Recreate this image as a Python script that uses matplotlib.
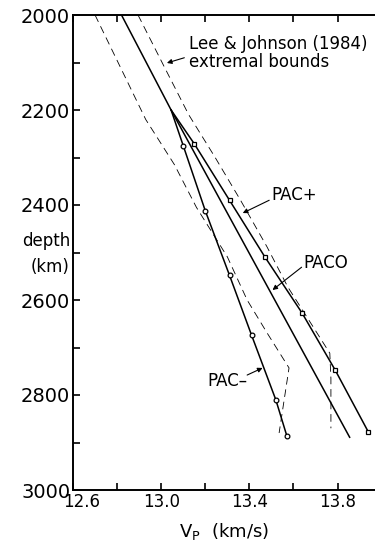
import matplotlib
matplotlib.use("Agg")
import matplotlib.pyplot as plt
import matplotlib.transforms as mtransforms
from matplotlib.ticker import MultipleLocator

# P velocity (km/s) vs depth (km)
pac0_v = [12.82, 13.045, 13.855]
pac0_d = [2000, 2200, 2889]

# PAC+ (squares); first point is where it leaves PAC0
pacp_v = [13.045, 13.15, 13.31, 13.47, 13.64, 13.79, 13.94]
pacp_d = [2200, 2271, 2390, 2509, 2628, 2748, 2878]

# PAC- (circles)
pacm_v = [13.045, 13.10, 13.20, 13.31, 13.41, 13.52, 13.57]
pacm_d = [2200, 2275, 2412, 2548, 2674, 2810, 2886]

# Lee & Johnson (1984) extremal bounds
lj_low_v = [12.70, 12.93, 13.06, 13.16, 13.30, 13.39, 13.48, 13.58, 13.535]
lj_low_d = [2000, 2220, 2315, 2405, 2509, 2600, 2669, 2743, 2880]
lj_high_v = [12.895, 13.015, 13.125, 13.245, 13.36, 13.48, 13.575, 13.69, 13.765, 13.77, 13.77]
lj_high_d = [2000, 2110, 2210, 2300, 2390, 2488, 2573, 2657, 2712, 2765, 2870]

fig = plt.figure(figsize=(3.75, 5.43), dpi=100)
ax = fig.add_axes([73/375, 1 - 490/543, 1 - 73/375, 475/543])

lw = 1.1
dlw = 0.6
ax.plot(lj_low_v, lj_low_d, color="black", lw=dlw, dashes=(5.5/dlw, 3.5/dlw))
ax.plot(lj_high_v, lj_high_d, color="black", lw=dlw, dashes=(5.5/dlw, 3.5/dlw))

ax.plot(pac0_v, pac0_d, color="black", lw=lw)
ax.plot(pacp_v, pacp_d, color="black", lw=lw, marker="s", markevery=range(1, len(pacp_v)),
        ms=3.2, mfc="white", mec="black", mew=0.9)
ax.plot(pacm_v, pacm_d, color="black", lw=lw, marker="o", markevery=range(1, len(pacm_v)),
        ms=3.4, mfc="white", mec="black", mew=0.9)

ax.set_xlim(12.6, 13.97)
ax.set_ylim(3000, 2000)

ax.xaxis.set_minor_locator(MultipleLocator(0.2))
ax.yaxis.set_minor_locator(MultipleLocator(100))
ax.set_xticks([12.6, 13.0, 13.4, 13.8])
ax.set_xticklabels(["12.6", "13.0", "13.4", "13.8"], fontsize=12)
ax.set_yticks([2000, 2200, 2400, 2600, 2800, 3000])
ax.set_yticklabels(["2000", "2200", "2400", "2600", "2800", "3000"], fontsize=14)
ax.tick_params(which="both", direction="in", top=True, bottom=True, left=True, right=False,
               length=5, width=1.2)
ax.tick_params(axis="x", pad=2)
ax.tick_params(axis="y", pad=2)

# nudge first x label to the right like the original
lab0 = ax.get_xticklabels()[0]
lab0.set_transform(lab0.get_transform() + mtransforms.ScaledTranslation(0.09, 0, fig.dpi_scale_trans))

for s in ["top", "bottom", "left"]:
    ax.spines[s].set_linewidth(1.4)
ax.spines["right"].set_visible(False)

ax.set_xlabel("V$_\\mathregular{P}$  (km/s)", fontsize=13, labelpad=7)

ytr = ax.get_yaxis_transform()
ax.text(-0.01, 2476, "depth", transform=ytr, ha="right", va="center", fontsize=12)
ax.text(-0.01, 2530, "(km)", transform=ytr, ha="right", va="center", fontsize=12)

arrow = dict(arrowstyle="-|>", color="black", lw=0.8, mutation_scale=7, shrinkA=0, shrinkB=0)

ax.text(13.125, 2080, "Lee & Johnson (1984)\nextremal bounds", fontsize=12,
        ha="left", va="center", linespacing=1.0)
ax.annotate("", xy=(13.026, 2101), xytext=(13.105, 2090), arrowprops=arrow)

ax.text(13.50, 2380, "PAC+", fontsize=12, ha="left", va="center")
ax.annotate("", xy=(13.37, 2417), xytext=(13.49, 2390), arrowprops=arrow)

ax.text(13.645, 2522, "PACO", fontsize=12, ha="left", va="center")
ax.annotate("", xy=(13.505, 2579), xytext=(13.637, 2531), arrowprops=arrow)

ax.text(13.39, 2771, "PAC–", fontsize=12, ha="right", va="center")
ax.annotate("", xy=(13.46, 2743), xytext=(13.39, 2758), arrowprops=arrow)

fig.savefig("out.png", dpi=100)
